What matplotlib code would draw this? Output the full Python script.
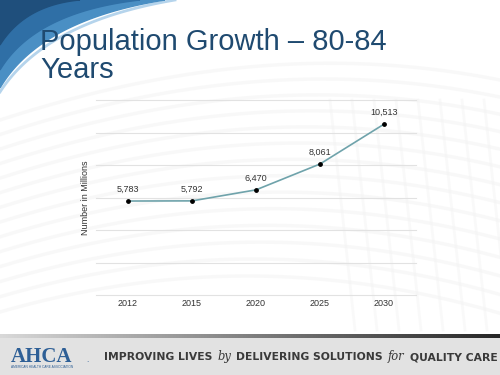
import numpy as np
import matplotlib.pyplot as plt

# data
years = ['2012', '2015', '2020', '2025', '2030']
population = [5783, 5792, 6470, 8061, 10513]
labels = ['5,783', '5,792', '6,470', '8,061', '10,513']

plt.rcParams['font.family'] = ['Liberation Sans', 'DejaVu Sans']

fig = plt.figure(figsize=(5, 3.75), dpi=100)

# background decoration in pixel coordinates
bg = fig.add_axes([0, 0, 1, 1], zorder=0)
bg.axis('off')

# faint wave lines in the background
t = np.linspace(0, 500, 200)
for k in range(14):
    yy = 95 + k * 17 - 40 * np.sin((t + k * 20) / 320.0) + 0.0004 * (t - 250) ** 2
    bg.plot(t, yy, color='#f2f2f2', lw=2.5, alpha=0.5, zorder=0)
for k in range(8):
    xx = 330 + k * 22
    bg.plot([xx, xx + 25], [100, 330], color='#f4f4f4', lw=2, alpha=0.5, zorder=0)


def bez(p0, p1, p2, n=60):
    s = np.linspace(0, 1, n)[:, None]
    return (1 - s) ** 2 * np.array(p0) + 2 * (1 - s) * s * np.array(p1) + s ** 2 * np.array(p2)


# blue swoosh top-left
hl = bez((0, 92), (45, 22), (175, 0))
bg.plot(hl[:, 0], hl[:, 1], color='#b5d4ec', lw=2, zorder=1)
outer = bez((0, 88), (40, 20), (165, 0))
poly = np.vstack([outer, [[0, 0]]])
bg.fill(poly[:, 0], poly[:, 1], color='#4a8fc4', zorder=1)
mid = bez((0, 70), (35, 12), (140, 0))
poly = np.vstack([mid, [[0, 0]]])
bg.fill(poly[:, 0], poly[:, 1], color='#2f6fa6', zorder=1)
inner = bez((0, 45), (25, 5), (80, 0))
poly = np.vstack([inner, [[0, 0]]])
bg.fill(poly[:, 0], poly[:, 1], color='#1f4f7c', zorder=1)

# footer band
bg.add_patch(plt.Rectangle((0, 337), 500, 38, color='#e2e2e2', zorder=1))
grad = np.linspace(0.85, 0.15, 256)[None, :]
bg.imshow(np.dstack([grad, grad, grad]), extent=(0, 500, 338, 334), aspect='auto', zorder=2)
bg.set_xlim(0, 500)
bg.set_ylim(375, 0)

# title
fig.text(40 / 500, 1 - 28 / 375, 'Population Growth \u2013 80-84\nYears', fontsize=21,
         color='#1f4a70', va='top', ha='left', linespacing=1.0)

# chart
ax = fig.add_axes([96 / 500, 1 - 295 / 375, 320 / 500, 195 / 375], zorder=2)
ax.patch.set_alpha(0)
x = np.arange(len(years))
ax.plot(x, population, color='#6fa3ab', lw=1.2, zorder=3)
ax.scatter(x, population, s=6, color='black', zorder=4)
for xi, yi, lab in zip(x, population, labels):
    ax.annotate(lab, (xi, yi), xytext=(0, 5), textcoords='offset points',
                ha='center', va='bottom', fontsize=6.5, color='#333333')

ax.set_xlim(-0.5, len(years) - 0.5)
ax.set_ylim(0, 12000)
ax.set_yticks(np.arange(0, 12001, 2000))
ax.set_yticklabels([])
ax.set_xticks(x)
ax.set_xticklabels(years, fontsize=6.5, color='#333333')
ax.tick_params(length=0, pad=3)
ax.grid(axis='y', color='#e2e2e2', lw=0.8)
for gl in ax.get_ygridlines():
    gl.set_clip_on(False)
for sp in ax.spines.values():
    sp.set_visible(False)
ax.set_ylabel('Number in Millions', fontsize=6.5, color='#333333')
ax.yaxis.set_label_coords(-0.02, 0.5)

# footer logo and tagline
fig.text(11 / 500, 1 - 362 / 375, 'AHCA', family='Liberation Serif', fontweight='bold',
         fontsize=15, color='#2e5f96', ha='left', va='baseline')
fig.text(86 / 500, 1 - 362 / 375, '.', fontsize=6, color='#2e5f96', ha='left', va='baseline')
fig.text(11 / 500, 1 - 368.5 / 375, 'AMERICAN HEALTH CARE ASSOCIATION', fontsize=2.3,
         color='#2e5f96', ha='left', va='baseline')

# tagline: pieces laid end to end on one baseline
pieces = [('IMPROVING LIVES', 'normal'), ('by', 'italic'), ('DELIVERING SOLUTIONS', 'normal'),
          ('for', 'italic'), ('QUALITY CARE', 'normal')]
renderer = fig.canvas.get_renderer()
x_start, x_end, base_y = 104, 492, 360
gap = 5
size = 8.3
for attempt in range(2):
    xpos = x_start
    made = []
    for txt, style in pieces:
        if style == 'italic':
            tt = fig.text(xpos / 500, 1 - base_y / 375, txt, fontsize=size + 0.6, style='italic',
                          color='#3a3a3a', ha='left', va='baseline', family='DejaVu Serif')
        else:
            tt = fig.text(xpos / 500, 1 - base_y / 375, txt, fontsize=size, fontweight='bold',
                          color='#3a3a3a', ha='left', va='baseline', family='DejaVu Sans')
        made.append(tt)
        xpos += tt.get_window_extent(renderer).width + gap
    total = xpos - gap - x_start
    if attempt == 0:
        for tt in made:
            tt.remove()
        size = size * (x_end - x_start - 4 * gap) / (total - 4 * gap)

plt.savefig('out.png', dpi=100)
